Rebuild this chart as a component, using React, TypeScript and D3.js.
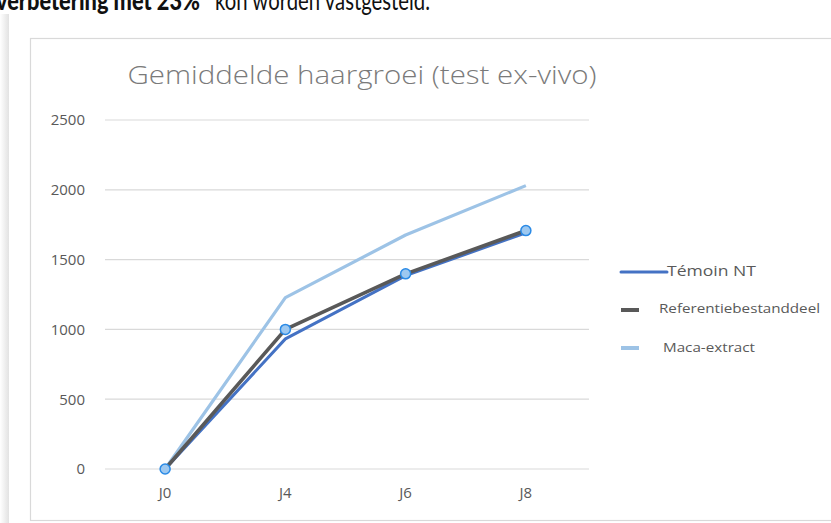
import React from "react";
import * as d3 from "d3";

const categories = ["J0", "J4", "J6", "J8"];
const yTicks = [0, 500, 1000, 1500, 2000, 2500];
const temoinNT = [0, 932, 1385, 1692];
const referentie = [0, 1000, 1398, 1708];
const macaExtract = [0, 1228, 1676, 2030];
const seriesNames = ["Témoin NT", "Referentiebestanddeel", "Maca-extract"];
const chartTitle = "Gemiddelde haargroei (test ex-vivo)";
const headBold = "verbetering met 23%";
const headRegular = "kon worden vastgesteld.";

const W = 831;
const H = 523;

export default function App() {
  const x = d3.scaleBand<string>().domain(categories).range([105, 586]).paddingInner(0).paddingOuter(0);
  const y = d3.scaleLinear().domain([0, 2500]).range([469, 120]);
  const cx = (c: string) => (x(c) as number) + x.bandwidth() / 2;
  const line = d3
    .line<number>()
    .x((_, i) => cx(categories[i]))
    .y((d) => y(d));

  const gridColor = "#D9D9D9";
  const labelColor = "#595959";
  const font = "'Open Sans', 'DejaVu Sans', sans-serif";

  return (
    <svg
      width={W}
      height={H}
      style={{ position: "absolute", left: 0, top: 0, background: "#fff" }}
    >
      <defs>
        <linearGradient id="shadow" x1="0" x2="1" y1="0" y2="0">
          <stop offset="0" stopColor="#ffffff" />
          <stop offset="0.6" stopColor="#ededed" />
          <stop offset="1" stopColor="#e2e2e2" />
        </linearGradient>
      </defs>
      <rect x={0} y={0} width={W} height={H} fill="#fff" />
      {/* page header text, cut off at the top as in the reference */}
      <text
        y={10}
        fontFamily="Lato, 'Open Sans', sans-serif"
        fontSize={27}
        fill="#111"
      >
        <tspan x={-4} fontWeight={900} textLength={204} lengthAdjust="spacingAndGlyphs">
          {headBold}
        </tspan>
        <tspan x={215} fontWeight={400} textLength={215} lengthAdjust="spacingAndGlyphs">
          {headRegular}
        </tspan>
      </text>
      {/* left shadow */}
      <rect x={0} y={14} width={9} height={H - 14} fill="url(#shadow)" />
      {/* chart frame */}
      <rect x={30.5} y={38.5} width={820} height={482} fill="#fff" stroke={gridColor} strokeWidth={1.2} />
      {/* title */}
      <text
        x={362}
        y={84}
        textAnchor="middle"
        fontFamily={font}
        fontWeight={300}
        fontSize={26}
        fill="#7a7a7a"
        textLength={469}
        lengthAdjust="spacingAndGlyphs"
      >
        {chartTitle}
      </text>
      {/* grid + y labels */}
      {yTicks.map((t) => (
        <g key={t}>
          <line x1={105} x2={589} y1={y(t)} y2={y(t)} stroke={gridColor} strokeWidth={1.2} />
          <text
            x={85}
            y={y(t)}
            dy="0.36em"
            textAnchor="end"
            fontFamily={font}
            fontSize={15}
            fill={labelColor}
          >
            {t}
          </text>
        </g>
      ))}
      {/* x labels */}
      {categories.map((c) => (
        <text
          key={c}
          x={cx(c)}
          y={498}
          textAnchor="middle"
          fontFamily={font}
          fontSize={15}
          fill={labelColor}
        >
          {c}
        </text>
      ))}
      {/* series */}
      <path d={line(temoinNT) || ""} fill="none" stroke="#4472C4" strokeWidth={3} strokeLinejoin="round" />
      <path d={line(macaExtract) || ""} fill="none" stroke="#9DC3E6" strokeWidth={3.2} strokeLinejoin="round" />
      <path d={line(referentie) || ""} fill="none" stroke="#595959" strokeWidth={3.6} strokeLinejoin="round" />
      {referentie.map((v, i) => (
        <circle
          key={i}
          cx={cx(categories[i])}
          cy={y(v)}
          r={5}
          fill="#9DC8F0"
          stroke="#2A8AE6"
          strokeWidth={1.5}
        />
      ))}
      {/* legend */}
      <line x1={621} x2={667} y1={272} y2={272} stroke="#4472C4" strokeWidth={3} strokeLinecap="round" />
      <text x={667} y={276} fontFamily={font} fontSize={14} fill={labelColor} textLength={89} lengthAdjust="spacingAndGlyphs">
        {seriesNames[0]}
      </text>
      <line x1={621} x2={639} y1={310} y2={310} stroke="#595959" strokeWidth={4} />
      <text x={659} y={313} fontFamily={font} fontSize={13} fill={labelColor} textLength={161} lengthAdjust="spacingAndGlyphs">
        {seriesNames[1]}
      </text>
      <line x1={621} x2={639} y1={348} y2={348} stroke="#9DC3E6" strokeWidth={4} />
      <text x={663} y={352} fontFamily={font} fontSize={13} fill={labelColor} textLength={92} lengthAdjust="spacingAndGlyphs">
        {seriesNames[2]}
      </text>
    </svg>
  );
}
